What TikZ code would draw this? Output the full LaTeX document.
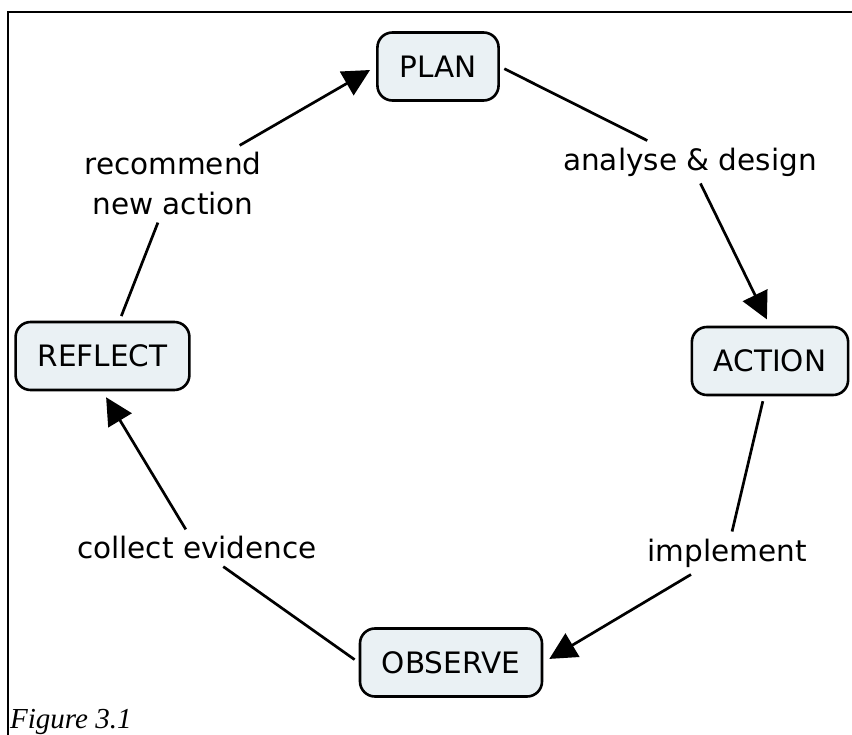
\documentclass[tikz,border=0pt]{standalone}
\usepackage{fontspec}
\setmainfont{DejaVu Sans}
\newfontfamily\captionfont{Liberation Serif}
\usetikzlibrary{arrows.meta,positioning}
\definecolor{boxfill}{RGB}{234,241,244}

\begin{document}
\begin{tikzpicture}[x=1pt,y=-1pt,
    concept/.style={rectangle, draw, line width=2.6pt, rounded corners=15pt, fill=boxfill, minimum height=68pt, inner xsep=22pt, font=\fontsize{29.5}{40}\selectfont},
    phrase/.style={inner xsep=4pt, inner ysep=7pt, align=center, font=\fontsize{29.5}{40}\selectfont},
    link/.style={line width=2.7pt, shorten <=5pt},
    linkarrow/.style={line width=2.7pt, -{Triangle[length=27pt,width=27pt]}, shorten >=7pt}]
    \useasboundingbox (0,0) rectangle (852,735);
    \draw[line width=2pt] (8,735) -- (8,12) -- (852,12);
    % concepts
    \node(plan) [concept] at (438,66.5) {PLAN};
    \node(action) [concept] at (770,361) {ACTION};
    \node(observe) [concept] at (451,662.5) {OBSERVE};
    \node(reflect) [concept] at (102.5,356) {REFLECT};
    % linking phrases
    \node(analyse) [phrase] at (690,162) {analyse \& design};
    \node(implement) [phrase] at (727,553) {implement};
    \node(collect) [phrase] at (197,548) {collect evidence};
    \node(recommend) [phrase] at (173,184) {recommend\\new action};
    \draw[link] (plan.east) -- (analyse);
    \draw[linkarrow] (analyse) -- (action.north);
    \draw[link] ([xshift=-6pt]action.south) -- (implement);
    \draw[linkarrow] (implement) -- (observe.east);
    \draw[link] (observe.west) -- (collect);
    \draw[linkarrow] (collect) -- (reflect.south);
    \draw[link] ([xshift=17pt]reflect.north) -- (recommend);
    \draw[linkarrow] (recommend) -- (plan.west);
    \node(caption) [anchor=base west, inner sep=2pt, font=\captionfont\itshape\fontsize{29}{34}\selectfont] at (8,728) {Figure 3.1};
\end{tikzpicture}
\end{document}
